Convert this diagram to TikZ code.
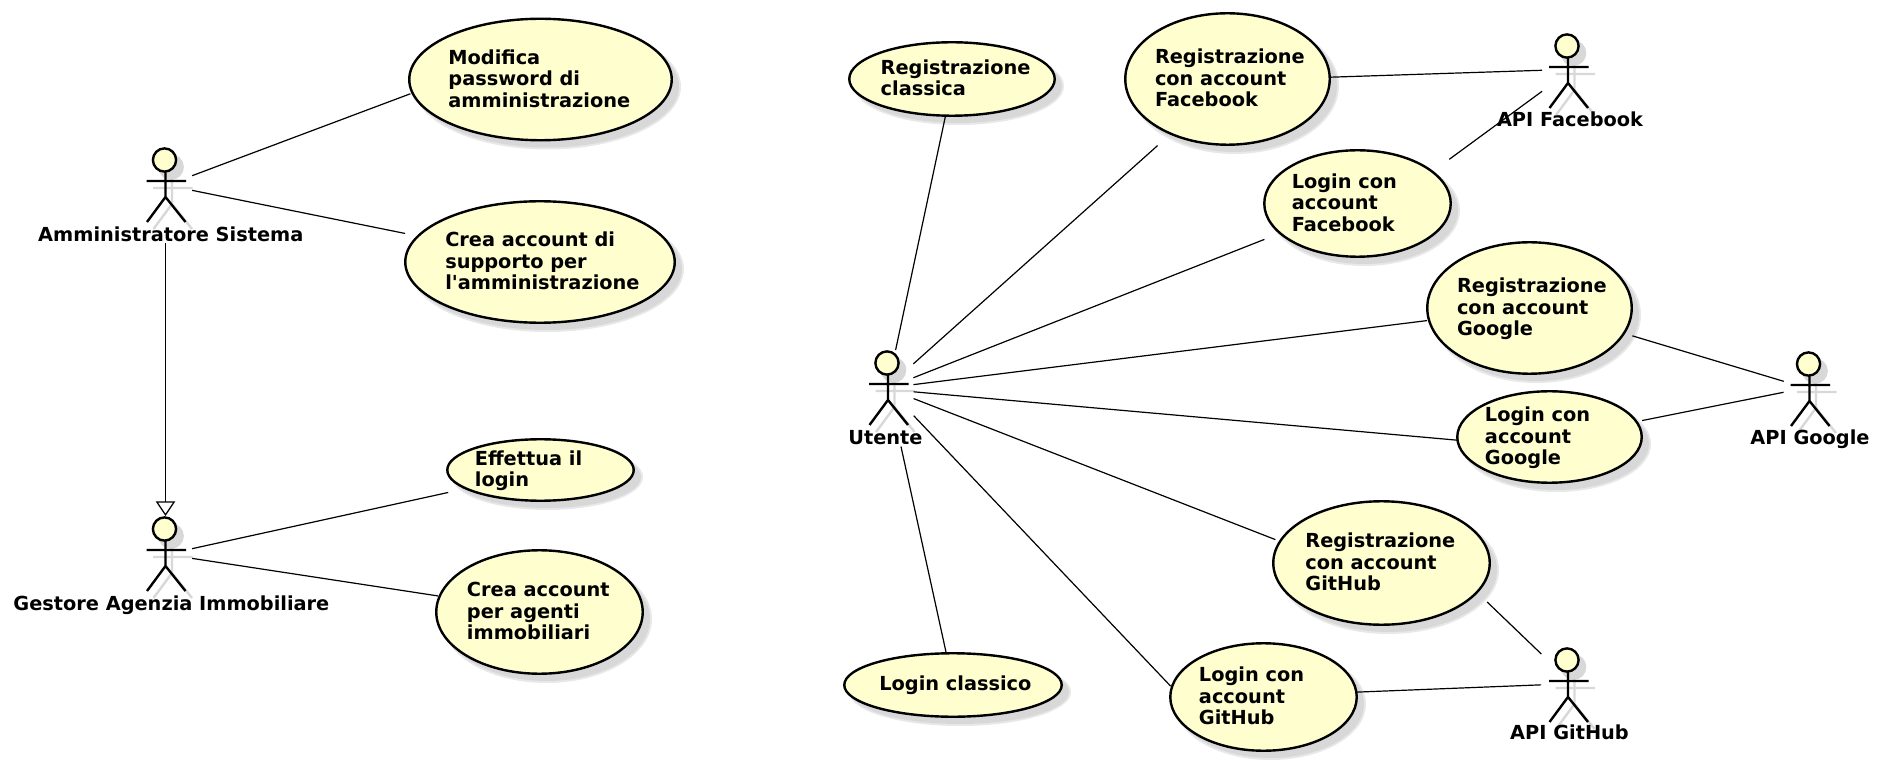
\documentclass[tikz,border=0pt]{standalone}
\usepackage{fontspec}
\setmainfont{DejaVu Sans}[Ligatures=TeXOff]
\usetikzlibrary{shapes.geometric,arrows.meta}
\definecolor{ucfill}{HTML}{FEFECE}
\definecolor{shadowc}{HTML}{D8D8D8}
\definecolor{shadowl}{HTML}{E8E8E8}
\tikzset{
  x=0.75pt,y=-0.75pt,
  ucase/.style={ellipse,draw=black,fill=ucfill,line width=1.8pt,inner sep=0pt,outer sep=0pt},
  actbox/.style={rectangle,inner sep=0pt,outer sep=0pt},
  actlab/.style={anchor=base,inner sep=0pt,font=\labfont},
  stick/.style={draw=black,line width=1.8pt},
  stickshadow/.style={draw=shadowc,line width=1.8pt},
  assoc/.style={draw=black,line width=0.9pt},
}
\newcommand\labfont{\fontsize{14.5pt}{16.2pt}\selectfont\bfseries}
\newcommand\uclines[2]{\smash{\makebox[0pt]{\hspace{#1pt}\hspace{#1pt}\raisebox{-0.5em}{\labfont\begin{tabular}{@{}l@{}}#2\end{tabular}}}}}
% \usecase{name}{cx}{cy}{w}{h}{text}{text shift, pt}
\newcommand\usecase[7]{%
  \fill[shadowl] (#2+7,#3+7) ellipse [x radius=#4/2+2,y radius=#5/2+2];
  \fill[shadowc] (#2+7,#3+7) ellipse [x radius=#4/2,y radius=#5/2];
  \node[ucase,minimum width=#4*0.75pt-0.4pt,minimum height=#5*0.75pt-0.4pt] (#1) at (#2,#3) {\uclines{#7}{#6}};
}
\newcommand\figureat[3]{%
  \draw[#3] (#1,#2) circle [radius=11.6];
  \draw[#3] (#1+1,#2+12) -- (#1+1,#2+37) (#1-18,#2+21) -- (#1+21.5,#2+21)
     (#1-17.5,#2+62) -- (#1+1,#2+37) -- (#1+21,#2+62);
}
% \actor{name}{cx}{cy}{label}{label x}{label baseline y}
\newcommand\actor[6]{%
  \fill[shadowc] (#2+6.5,#3+7) circle [radius=12.5];
  \figureat{#2+6.5}{#3+7}{stickshadow}
  \fill[ucfill] (#2,#3) circle [radius=11.6];
  \figureat{#2}{#3}{stick}
  \node[actbox,minimum width=53*0.75pt,minimum height=96*0.75pt] (#1) at (#2+1,#3+35) {};
  \node[actlab] (#1-label) at (#5,#6) {#4};
}
% \link{a}{b}{xa}{ya}{xb}{yb}: connector between nodes a and b, its ends a set distance from their borders
\newcommand\link[6]{%
  \path (#1.center); \pgfgetlastxy{\lax}{\lay}
  \path (#2.center); \pgfgetlastxy{\lbx}{\lby}
  \pgfmathsetmacro\dxa{0.75*#3-\lax}\pgfmathsetmacro\dya{-0.75*#4-\lay}
  \pgfmathsetmacro\dxb{0.75*#5-\lbx}\pgfmathsetmacro\dyb{-0.75*#6-\lby}
  \pgfmathsetmacro\angA{atan2(\dya,\dxa)}
  \pgfmathsetmacro\angB{atan2(\dyb,\dxb)}
  \path (#1.\angA); \pgfgetlastxy{\pax}{\pay}
  \path (#2.\angB); \pgfgetlastxy{\pbx}{\pby}
  \pgfmathsetmacro\shA{veclen(\dxa,\dya)-veclen(\pax-\lax,\pay-\lay)}
  \pgfmathsetmacro\shB{veclen(\dxb,\dyb)-veclen(\pbx-\lbx,\pby-\lby)}
  \draw[assoc,shorten <=\shA pt,shorten >=\shB pt] (#1.\angA) -- (#2.\angB);
}
\begin{document}
\begin{tikzpicture}
\useasboundingbox (0,0) rectangle (1880,762);
\actor{admin}{164.5}{160}{Amministratore Sistema}{170.8}{241.6}
\actor{gestore}{164.5}{529}{Gestore Agenzia Immobiliare}{171.4}{610.6}
\actor{utente}{887}{363}{Utente}{885.5}{444.7}
\actor{fb}{1567}{46}{API Facebook}{1570}{126.2}
\actor{google}{1808.5}{364}{API Google}{1810}{444.7}
\actor{github}{1567}{660}{API GitHub}{1569.5}{739.7}

\usecase{modifica}{540.5}{79.5}{263}{122}{Modifica\\password di\\amministrazione}{-0.9}
\usecase{crea}{540}{262}{270}{122}{Crea account di\\supporto per\\l'amministrazione}{1.8}
\usecase{login}{540.5}{470}{187}{62}{Effettua il\\login}{-9}
\usecase{agenti}{539.5}{612}{207}{124}{Crea account\\per agenti\\immobiliari}{-0.9}
\usecase{regcl}{952}{79}{206}{74}{Registrazione\\classica}{2.7}
\usecase{regfb}{1227.5}{79}{205}{132}{Registrazione\\con account\\Facebook}{1.8}
\usecase{logfb}{1357.5}{203.5}{187}{107}{Login con\\account\\Facebook}{-9.9}
\usecase{reggo}{1529.5}{308}{205}{132}{Registrazione\\con account\\Google}{1.8}
\usecase{loggo}{1549.5}{437}{185}{92}{Login con\\account\\Google}{-9}
\usecase{reggh}{1381.5}{563}{217}{124}{Registrazione\\con account\\GitHub}{-0.9}
\usecase{loggh}{1263.5}{697}{187}{108}{Login con\\account\\GitHub}{-9}
\usecase{logcl}{953}{685}{218}{64}{\raisebox{1.2pt}{Login classico}}{1.8}

\link{admin}{modifica}{192}{175.5}{410}{91}
\link{admin}{crea}{192}{190}{405}{234}
\draw[assoc,-{Triangle[open,fill=white,length=11pt,width=14.5pt]}] (admin.south) -- (gestore.north);
\link{gestore}{login}{192}{548.5}{448}{491.6}
\link{gestore}{agenti}{192}{558}{438}{597}
\link{utente}{regcl}{895.5}{350}{945}{116}
\link{utente}{regfb}{913.5}{364}{1157}{145}
\link{utente}{logfb}{913.5}{378}{1264}{238.6}
\link{utente}{reggo}{913.5}{385}{1427}{320}
\link{utente}{loggo}{913.5}{391.7}{1457}{440}
\link{utente}{reggh}{913.5}{399}{1275}{541}
\link{utente}{loggh}{913.5}{416}{1170}{688}
\link{utente}{logcl}{900.3}{446.7}{946}{653.5}
\link{regfb}{fb}{1330}{76.7}{1542}{70.7}
\link{logfb}{fb}{1451}{162}{1542}{91}
\link{reggo}{google}{1632}{337}{1783.5}{381.7}
\link{loggo}{google}{1642}{420}{1783.5}{392.7}
\link{reggh}{github}{1490}{598}{1541}{654.3}
\link{loggh}{github}{1357}{692}{1541}{685}
\end{tikzpicture}
\end{document}
